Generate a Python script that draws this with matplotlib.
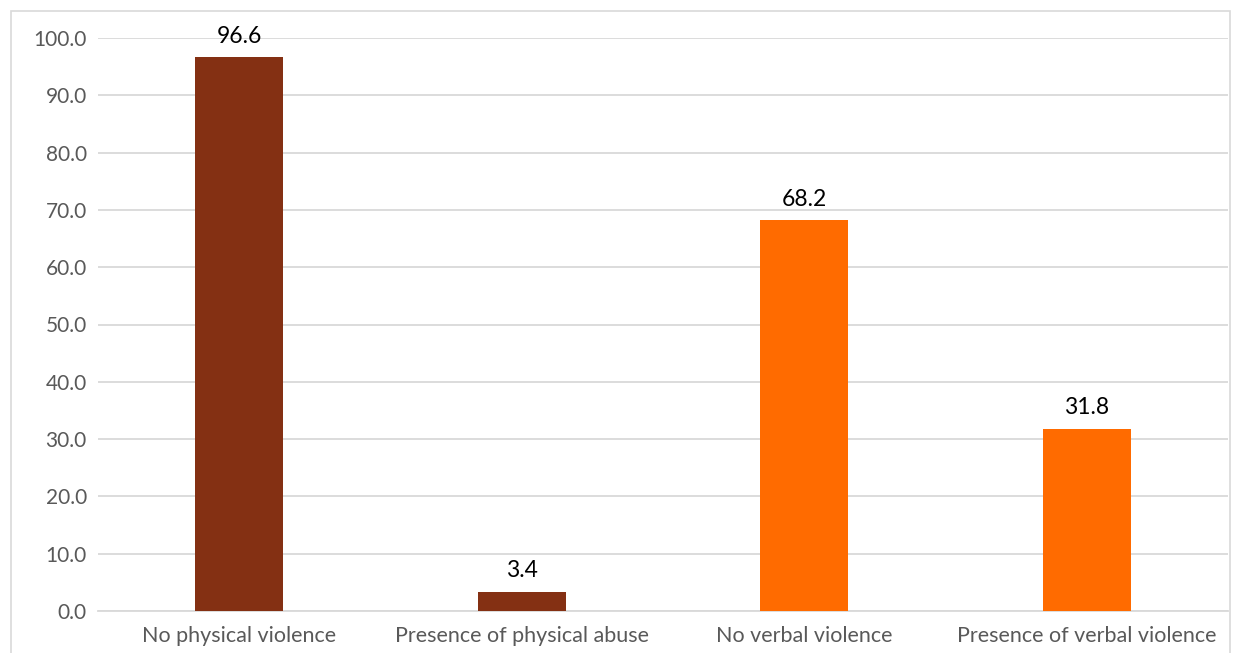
import matplotlib.pyplot as plt
from matplotlib.patches import Rectangle

categories = ["No physical violence", "Presence of physical abuse",
              "No verbal violence", "Presence of verbal violence"]
values = [96.6, 3.4, 68.2, 31.8]
colors = ["#843013", "#843013", "#FF6B00", "#FF6B00"]
yticks = [0, 10, 20, 30, 40, 50, 60, 70, 80, 90, 100]

plt.rcParams['font.family'] = ['Lato', 'DejaVu Sans']

fig = plt.figure(figsize=(12.39, 6.53), dpi=100)
ax = fig.add_axes([98 / 1239, 1 - 611 / 653, 1130 / 1239, (611 - 38) / 653])

# chart frame
fig.patches.append(Rectangle((11 / 1239, -0.01), 1219 / 1239, 1 - 11 / 653 + 0.01,
                             transform=fig.transFigure, fill=False,
                             edgecolor="#d9d9d9", linewidth=1.2))

x = range(len(categories))
bars = ax.bar(x, values, width=0.31, color=colors, zorder=3)
for b, v in zip(bars, values):
    ax.text(b.get_x() + b.get_width() / 2, v + 1.8, f"{v:.1f}",
            ha="center", va="bottom", fontsize=16.5, color="black")

ax.set_xlim(-0.5, 3.5)
ax.set_ylim(0, 100)
ax.set_yticks(yticks)
ax.set_yticklabels([f"{t:.1f}" for t in yticks])
ax.set_xticks(list(x))
ax.set_xticklabels(categories)
ax.grid(axis="y", color="#d9d9d9", linewidth=1.3, zorder=0)
ax.tick_params(axis="y", length=0, labelsize=15, colors="#595959", pad=8)
ax.tick_params(axis="x", length=0, labelsize=15.5, colors="#595959", pad=11)
for s in ["top", "right", "left"]:
    ax.spines[s].set_visible(False)
ax.spines["bottom"].set_color("#d9d9d9")
ax.spines["bottom"].set_linewidth(1.3)

plt.savefig("out.png", dpi=100)
